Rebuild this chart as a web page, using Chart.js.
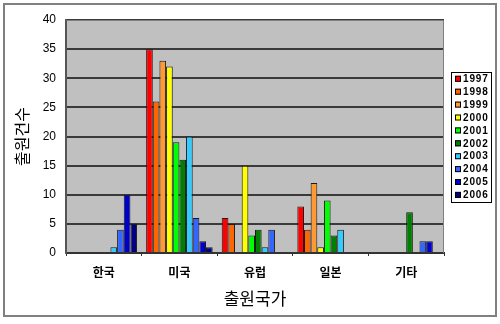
<!DOCTYPE html>
<html>
<head>
<meta charset="utf-8">
<script src="https://cdn.jsdelivr.net/npm/chart.js@4"></script>
<style>
  html, body { margin: 0; padding: 0; background: #ffffff; }
  #wrap { width: 500px; height: 324px; }
</style>
</head>
<body>
<div id="wrap"><canvas id="patentChart" width="500" height="324"></canvas></div>
<script>
// categories and series (filed patents by country, per year)
const countries = ['한국', '미국', '유럽', '일본', '기타'];
const years = ['1997', '1998', '1999', '2000', '2001', '2002', '2003', '2004', '2005', '2006'];
const yearColors = ['#ff0000', '#ff6600', '#ff9933', '#ffff00', '#00ff00',
                    '#008000', '#33ccff', '#3366ff', '#0000cc', '#000080'];

const v1997 = [0, 35, 6, 8, 0];
const v1998 = [0, 26, 5, 4, 0];
const v1999 = [0, 33, 0, 12, 0];
const v2000 = [0, 32, 15, 1, 0];
const v2001 = [0, 19, 3, 9, 0];
const v2002 = [0, 16, 4, 3, 7];
const v2003 = [1, 20, 1, 4, 0];
const v2004 = [4, 6, 4, 0, 2];
const v2005 = [10, 2, 0, 0, 2];
const v2006 = [5, 1, 0, 0, 0];
const seriesValues = [v1997, v1998, v1999, v2000, v2001, v2002, v2003, v2004, v2005, v2006];

const yTicks = [0, 5, 10, 15, 20, 25, 30, 35, 40];

const KR_FONT = '"Noto Sans CJK KR", "Noto Sans", sans-serif';
const NUM_FONT = '"Liberation Sans", Arial, sans-serif';

// frame around the whole picture + grey plot area
const framePlugin = {
  id: 'frame',
  beforeDraw(chart) {
    const { ctx, chartArea: a } = chart;
    ctx.save();
    ctx.fillStyle = '#ffffff';
    ctx.fillRect(0, 0, chart.width, chart.height);
    ctx.strokeStyle = '#808080';
    ctx.lineWidth = 2;
    ctx.strokeRect(4, 4, 492, 312);
    ctx.fillStyle = '#c0c0c0';
    ctx.fillRect(a.left, a.top, a.right - a.left, a.bottom - a.top);
    ctx.restore();
  },
  afterDraw(chart) {
    const { ctx, chartArea: a } = chart;
    ctx.save();
    ctx.strokeStyle = '#808080';
    ctx.lineWidth = 1;
    ctx.beginPath();
    ctx.moveTo(a.left + 0.5, a.top + 0.5);
    ctx.lineTo(a.right - 0.5, a.top + 0.5);
    ctx.lineTo(a.right - 0.5, a.bottom);
    ctx.stroke();
    ctx.restore();
  }
};

// boxed legend on the right, Excel style
const boxLegend = {
  id: 'boxLegend',
  afterDraw(chart) {
    const { ctx } = chart;
    const x = 451, y = 72, w = 40, rowH = 12.9;
    const sets = chart.data.datasets;
    ctx.save();
    ctx.fillStyle = '#ffffff';
    ctx.fillRect(x, y, w, rowH * sets.length + 1);
    ctx.strokeStyle = '#000000';
    ctx.lineWidth = 1;
    ctx.strokeRect(x + 0.5, y + 0.5, w, rowH * sets.length + 1);
    ctx.font = 'bold 10px ' + NUM_FONT;
    ctx.textBaseline = 'middle';
    sets.forEach((ds, i) => {
      const cy = y + 6.8 + i * rowH;
      ctx.fillStyle = ds.backgroundColor;
      ctx.fillRect(x + 4, cy - 3, 6, 6);
      ctx.strokeStyle = '#000000';
      ctx.strokeRect(x + 4.5, cy - 2.5, 5, 5);
      ctx.fillStyle = '#000000';
      ctx.fillText(ds.label.split('').join(String.fromCharCode(8202)), x + 12, cy + 0.5);
    });
    ctx.restore();
  }
};

new Chart(document.getElementById('patentChart'), {
  type: 'bar',
  data: {
    labels: countries,
    datasets: years.map((yr, i) => ({
      label: yr,
      data: seriesValues[i],
      backgroundColor: yearColors[i],
      borderColor: '#1a1a1a',
      borderWidth: 1,
      borderSkipped: 'start',
      barPercentage: 1.0,
      categoryPercentage: 0.88
    }))
  },
  options: {
    responsive: false,
    animation: false,
    layout: { padding: { left: 0, top: 20, right: 56, bottom: 0 } },
    plugins: {
      legend: { display: false },
      tooltip: { enabled: false }
    },
    scales: {
      x: {
        grid: { display: true, drawOnChartArea: false, drawTicks: true, tickLength: 3,
                offset: true, color: '#333333' },
        border: { display: true, color: '#333333', width: 2 },
        ticks: {
          color: '#000000',
          padding: 9,
          font: { family: KR_FONT, size: 12, weight: 'bold' }
        },
        title: {
          display: true,
          text: '출원국가',
          color: '#000000',
          padding: { top: 0, bottom: 15 },
          font: { family: KR_FONT, size: 17 }
        },
        afterFit: (scale) => { scale.height = 71; }
      },
      y: {
        min: 0,
        max: 40,
        afterBuildTicks: (scale) => { scale.ticks = yTicks.map(v => ({ value: v })); },
        grid: { color: '#3a3a3a', lineWidth: 2, drawTicks: false },
        border: { display: true, color: '#555555', width: 2 },
        ticks: {
          color: '#000000',
          padding: 10,
          font: { family: NUM_FONT, size: 12 }
        },
        title: {
          display: true,
          text: '출원건수',
          color: '#000000',
          padding: { top: 12, bottom: 0 },
          font: { family: KR_FONT, size: 16 }
        },
        afterFit: (scale) => { scale.width = 66; }
      }
    }
  },
  plugins: [framePlugin, boxLegend]
});
</script>
</body>
</html>
